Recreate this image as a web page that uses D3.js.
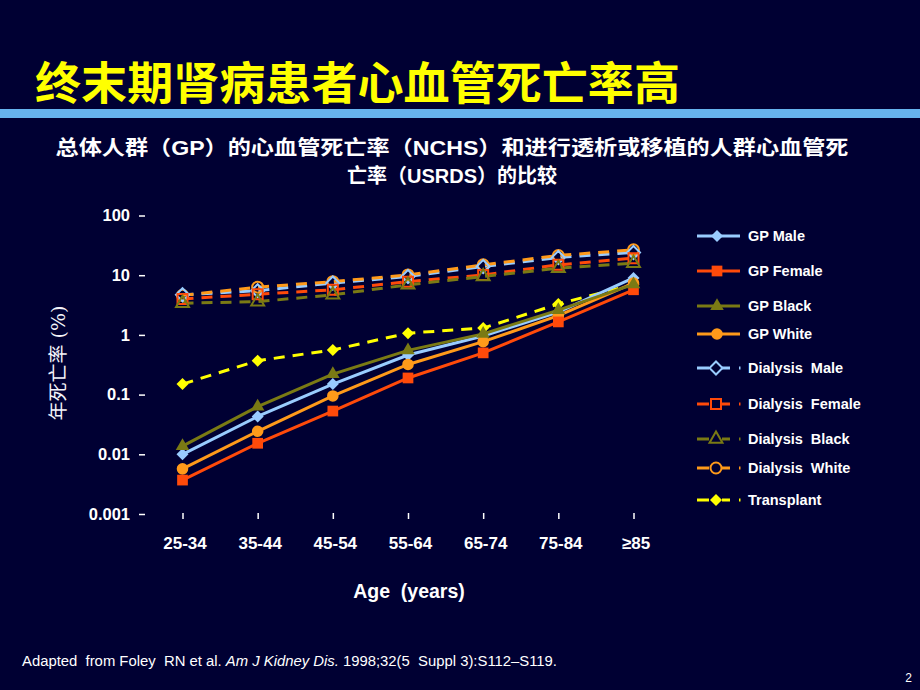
<!DOCTYPE html>
<html><head><meta charset="utf-8">
<script src="https://cdn.jsdelivr.net/npm/d3@7/dist/d3.min.js"></script>
<style>html,body{margin:0;padding:0;background:#000033;}svg{display:block;}</style>
</head><body>
<svg id="c" width="920" height="690"></svg>
<script>
const ages = ["25-34","35-44","45-54","55-64","65-74","75-84","≥85"];
const yTicks = [100,10,1,0.1,0.01,0.001];
const yTickLabels = ["100","10","1","0.1","0.01","0.001"];

const gpMale     = [0.010, 0.043, 0.15, 0.46, 0.96, 2.4, 9.0];
const gpFemale   = [0.0037,0.0153,0.053,0.19, 0.50, 1.65, 5.7];
const gpBlack    = [0.0137,0.063, 0.22, 0.55, 1.04, 2.6, 7.0];
const gpWhite    = [0.0057,0.0243,0.095,0.32, 0.77, 2.1, 7.4];
const dialMale   = [4.7, 5.5, 7.4, 9.5, 14, 19.8, 24];
const dialFemale = [4.0, 4.8, 5.7, 7.8, 10.1, 14.9, 19.3];
const dialBlack  = [3.4, 3.6, 4.7, 6.9, 9.5, 13.1, 15.9];
const dialWhite  = [4.6, 6.3, 7.8, 10.1, 14.9, 21.4, 26.6];
const transplant = [0.15, 0.37, 0.56, 1.07, 1.3, 3.3, 7.0];

const seriesNames = ["GP Male","GP Female","GP Black","GP White","Dialysis  Male","Dialysis  Female","Dialysis  Black","Dialysis  White","Transplant"];

const series = [
  {name:seriesNames[0], v:gpMale,   c:"#99CCFF", sym:"diamond", fill:true,  dash:null},
  {name:seriesNames[1], v:gpFemale, c:"#FF4A0A", sym:"square",  fill:true,  dash:null},
  {name:seriesNames[2], v:gpBlack,  c:"#7A7A14", sym:"triangle",fill:true,  dash:null},
  {name:seriesNames[3], v:gpWhite,  c:"#FF9A1A", sym:"circle",  fill:true,  dash:null},
  {name:seriesNames[4], v:dialMale,   c:"#99CCFF", sym:"diamond", fill:false, dash:"11,8"},
  {name:seriesNames[5], v:dialFemale, c:"#FF4A0A", sym:"square",  fill:false, dash:"11,8"},
  {name:seriesNames[6], v:dialBlack,  c:"#7A7A14", sym:"triangle",fill:false, dash:"11,8"},
  {name:seriesNames[7], v:dialWhite,  c:"#FF9A1A", sym:"circle",  fill:false, dash:"11,8"},
  {name:seriesNames[8], v:transplant, c:"#FFFF00", sym:"diamond", fill:true,  dash:"11,8"}
];

const svg = d3.select("#c");
svg.append("rect").attr("width",920).attr("height",690).attr("fill","#000033");

// Title
svg.append("text").attr("x",35).attr("y",100)
  .attr("font-family","'Noto Sans CJK SC'").attr("font-size",45).attr("font-weight","bold")
  .attr("fill","#FFFF00").attr("textLength",645).attr("lengthAdjust","spacingAndGlyphs")
  .text("终末期肾病患者心血管死亡率高");
svg.append("rect").attr("x",0).attr("y",109).attr("width",920).attr("height",9).attr("fill","#66B3EE");

// Subtitle
const sub = svg.append("g").attr("font-family","Arial,'Liberation Sans','Noto Sans CJK SC'")
  .attr("font-size",20).attr("font-weight","bold").attr("fill","#FFFFFF").attr("text-anchor","middle");
sub.append("text").attr("x",452).attr("y",155).attr("textLength",793).attr("lengthAdjust","spacingAndGlyphs")
  .text("总体人群（GP）的心血管死亡率（NCHS）和进行透析或移植的人群心血管死");
sub.append("text").attr("x",452).attr("y",183)
  .text("亡率（USRDS）的比较");

// Scales
const x = d3.scalePoint().domain(ages).range([182.5, 633.5]);
const y = d3.scaleLog().domain([0.001,100]).range([514,215.5]);

// Y axis
const yAxis = d3.axisLeft(y).tickValues(yTicks).tickSize(6).tickPadding(9)
  .tickFormat((d,i)=>yTickLabels[i]);
const yg = svg.append("g").attr("transform","translate(145,0)").call(yAxis);
yg.select(".domain").remove();
yg.selectAll(".tick line").attr("stroke","#FFFFFF").attr("stroke-width",1.5);
yg.selectAll(".tick text").attr("fill","#FFFFFF").attr("font-family","Arial,'Liberation Sans'")
  .attr("font-size",16.5).attr("font-weight","bold");

// X axis
const xAxis = d3.axisBottom(x).tickSize(6).tickPadding(18);
const xg = svg.append("g").attr("transform","translate(0,513)").call(xAxis);
xg.select(".domain").remove();
xg.selectAll(".tick line").attr("stroke","#FFFFFF").attr("stroke-width",1.5);
xg.selectAll(".tick text").attr("fill","#FFFFFF").attr("font-family","Arial,'Liberation Sans'")
  .attr("font-size",17).attr("font-weight","bold").attr("dx",2);

svg.append("text").attr("x",409).attr("y",598).attr("text-anchor","middle")
  .attr("font-family","Arial,'Liberation Sans'").attr("font-size",19.5).attr("font-weight","bold")
  .attr("fill","#FFFFFF").attr("xml:space","preserve").style("white-space","pre").text("Age  (years)");

svg.append("text").attr("transform","translate(65,363) rotate(-90)").attr("text-anchor","middle")
  .attr("font-family","'DejaVu Serif','Noto Sans CJK SC'").attr("font-size",19)
  .attr("fill","#F4F4FA").text("年死亡率 (%)");

// Symbols
function symPath(sym, filled){
  if(sym==="diamond"){
    const h = filled ? 6 : 6.5;
    return `M0,${-h}L${h},0L0,${h}L${-h},0Z`;
  }
  const t = {square:d3.symbolSquare, triangle:d3.symbolTriangle, circle:d3.symbolCircle}[sym];
  const size = filled ? {square:115, triangle:80, circle:105}[sym]
                      : {square:100, triangle:72, circle:95}[sym];
  return d3.symbol().type(t).size(size)();
}

const line = d3.line().x((d,i)=>x(ages[i])).y(d=>y(d));
const lineOrder = [4,5,6,7,8,0,3,1,2];
const markOrder = [7,4,5,6,8,0,3,1,2];
const plot = svg.append("g");
lineOrder.forEach(k=>{
  const s = series[k];
  plot.append("path").datum(s.v).attr("d",line).attr("fill","none")
    .attr("stroke",s.c).attr("stroke-width",3)
    .attr("stroke-dasharray",s.dash);
});
markOrder.forEach(k=>{
  const s = series[k];
  plot.selectAll(null).data(s.v).enter().append("path")
    .attr("transform",(d,i)=>`translate(${x(ages[i])},${y(d)})`)
    .attr("d",symPath(s.sym,s.fill))
    .attr("fill",s.fill? s.c : "none")
    .attr("stroke",s.c).attr("stroke-width",s.fill?0:2);
});

// Legend
const legY = [236,271,306,334,368,404,439,468,500];
const leg = svg.append("g");
series.forEach((s,i)=>{
  const g = leg.append("g").attr("transform",`translate(0,${legY[i]})`);
  if(!s.dash){
    g.append("line").attr("x1",697).attr("x2",740).attr("y1",0).attr("y2",0)
      .attr("stroke",s.c).attr("stroke-width",3);
  } else {
    g.append("line").attr("x1",697).attr("x2",709).attr("y1",0).attr("y2",0).attr("stroke",s.c).attr("stroke-width",3);
    g.append("line").attr("x1",722).attr("x2",730).attr("y1",0).attr("y2",0).attr("stroke",s.c).attr("stroke-width",3);
    g.append("line").attr("x1",739).attr("x2",740.5).attr("y1",0).attr("y2",0).attr("stroke",s.c).attr("stroke-width",3);
  }
  g.append("path").attr("transform",`translate(${s.dash?716:717},0)`)
    .attr("d",symPath(s.sym,s.fill)).attr("fill",s.fill?s.c:"#000033")
    .attr("stroke",s.c).attr("stroke-width",s.fill?0:2);
  g.append("text").attr("x",748).attr("y",5).attr("fill","#FFFFFF")
    .attr("font-family","Arial,'Liberation Sans'").attr("font-size",14.5).attr("font-weight","bold")
    .attr("xml:space","preserve").style("white-space","pre").text(s.name);
});

// Footnote
const fn = svg.append("text").attr("x",22).attr("y",666).attr("fill","#FFFFFF")
  .attr("font-family","'Liberation Sans Narrow','Arial Narrow',Arial").attr("font-size",14)
  .attr("textLength",535).attr("lengthAdjust","spacingAndGlyphs");
fn.append("tspan").text("Adapted  from Foley  RN et al. ");
fn.append("tspan").attr("font-style","italic").text("Am J Kidney Dis.");
fn.append("tspan").text(" 1998;32(5  Suppl 3):S112–S119.");
fn.attr("xml:space","preserve").style("white-space","pre");

svg.append("text").attr("x",912).attr("y",682).attr("text-anchor","end").attr("fill","#FFFFFF")
  .attr("font-family","'Liberation Sans Narrow',Arial").attr("font-size",12).text("2");
</script>
</body></html>
